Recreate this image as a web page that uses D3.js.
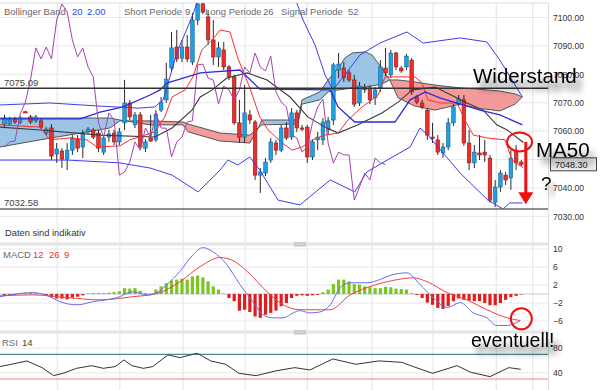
<!DOCTYPE html>
<html><head><meta charset="utf-8">
<script src="https://cdn.jsdelivr.net/npm/d3@7"></script>
<style>
html,body{margin:0;padding:0;background:#fff;}
svg{display:block;font-family:"Liberation Sans",Arial,sans-serif;}
</style></head><body>
<svg id="c" width="600" height="390"></svg>
<script>
// ---------- DATA ----------
const candleO = [
7062.5,7062.5,7064.3,7063.2,7066.8,7065.0,7063.6,7063.6,7059.3,7061.1,
7051.9,7053.0,7050.2,7053.3,7057.2,7054.4,7059.7,7060.4,7059.3,7052.6,
7057.9,7059.3,7056.2,7062.9,7069.9,7062.2,7065.7,7054.0,7057.6,7056.9,
7067.4,7071.0,7082.2,7089.6,7085.7,7089.6,7084.3,7099.1,7104.8,7100.2,
7092.1,7086.1,7088.6,7082.6,7079.1,7062.9,7057.9,7065.7,7063.2,7044.5,
7045.2,7049.8,7055.8,7053.3,7061.1,7057.9,7066.4,7061.1,7061.4,7050.9,
7056.9,7056.9,7060.4,7063.9,7081.5,7082.2,7080.5,7078.0,7069.9,7075.5,
7075.2,7071.7,7075.2,7082.2,7079.8,7087.5,7082.2,7082.6,7085.0,7072.0,
7069.9,7067.4,7057.9,7056.9,7052.3,7054.4,7062.9,7069.5,7071.0,7055.8,
7048.8,7052.3,7052.6,7050.5,7035.0,7040.3,7044.5,7043.5,7053.3,7049.1];
const candleH = [
7065.7,7065.0,7065.0,7065.3,7067.1,7065.7,7065.7,7064.6,7061.4,7062.5,
7055.8,7054.0,7055.8,7058.6,7058.6,7060.4,7061.4,7061.1,7060.4,7058.6,
7060.4,7060.4,7061.1,7078.0,7071.0,7066.7,7066.7,7057.2,7065.7,7067.4,
7072.0,7084.0,7094.9,7095.6,7092.1,7093.8,7101.6,7105.5,7105.5,7102.6,
7099.1,7091.4,7091.4,7083.3,7079.8,7071.0,7076.2,7067.4,7063.9,7047.0,
7050.5,7057.6,7056.9,7062.2,7063.2,7068.1,7067.4,7062.2,7062.2,7056.9,
7059.7,7064.6,7065.0,7084.0,7087.5,7084.3,7081.5,7079.8,7077.3,7076.6,
7076.2,7075.5,7085.0,7089.3,7088.6,7087.9,7082.9,7087.2,7085.7,7072.7,
7071.0,7068.1,7062.9,7058.6,7055.8,7064.6,7069.5,7072.7,7072.7,7060.4,
7055.1,7058.6,7056.9,7051.6,7042.8,7046.3,7045.6,7053.3,7055.1,7049.8];
const candleL = [
7061.4,7061.8,7062.5,7062.5,7066.4,7062.5,7062.9,7060.7,7058.6,7049.8,
7048.8,7047.0,7046.3,7051.6,7052.6,7050.5,7059.0,7057.2,7052.6,7051.6,
7056.2,7055.1,7055.1,7060.4,7063.9,7061.1,7053.3,7052.6,7056.2,7056.2,
7066.7,7069.9,7080.8,7084.3,7084.3,7084.3,7083.3,7097.4,7101.2,7090.3,
7083.3,7082.6,7081.5,7078.0,7062.2,7055.8,7055.8,7062.5,7042.8,7038.2,
7044.2,7048.8,7051.6,7052.6,7056.9,7056.9,7059.7,7060.0,7048.8,7049.8,
7053.3,7055.1,7058.6,7062.2,7078.7,7077.3,7077.3,7068.5,7068.8,7073.4,
7069.5,7069.2,7073.8,7079.4,7078.7,7081.5,7080.5,7081.5,7072.7,7069.5,
7067.8,7056.9,7055.8,7051.6,7050.5,7053.3,7061.8,7068.8,7054.8,7046.3,
7047.0,7049.8,7049.1,7034.7,7033.3,7038.6,7041.0,7039.3,7046.3,7047.7];
const candleC = [
7064.6,7063.9,7063.2,7064.6,7066.6,7063.2,7065.0,7061.4,7060.7,7051.2,
7053.7,7050.2,7053.3,7057.6,7054.0,7059.3,7060.7,7057.9,7054.0,7057.6,
7059.0,7056.2,7059.7,7069.9,7065.0,7065.7,7054.4,7056.2,7056.5,7066.0,
7070.2,7078.3,7089.3,7085.4,7089.6,7085.4,7099.1,7104.8,7101.9,7092.1,
7086.1,7089.3,7082.6,7079.1,7062.9,7057.9,7066.4,7063.9,7044.5,7045.6,
7049.1,7056.2,7053.3,7061.1,7057.6,7066.4,7061.1,7061.0,7050.9,7056.2,
7057.9,7063.2,7063.6,7083.3,7083.6,7078.7,7078.0,7069.5,7075.9,7074.5,
7071.0,7074.5,7082.6,7080.5,7087.5,7082.6,7081.2,7086.4,7073.8,7070.2,
7068.5,7058.6,7057.6,7052.6,7054.4,7062.9,7068.5,7071.3,7055.8,7048.8,
7052.6,7051.6,7051.6,7035.7,7040.3,7045.2,7042.8,7050.5,7048.8,7048.3];

// overlay lines: [bar index, price]
const bbUpper = [[-0.9,7069.2],[8.7,7069.9],[18.3,7068.8],[25.6,7068.1],[28.8,7068.5],[30.4,7071.0],[31.7,7079.1],[33.0,7087.5],[34.6,7094.5],[35.9,7100.2],[36.9,7105.1],[39.4,7111.4],[47.0,7113.2],[53.7,7109.7],[56.0,7105.1],[57.2,7099.1],[59.5,7090.3],[61.4,7079.8],[62.9,7074.5],[65.2,7079.8],[68.1,7086.8],[71.9,7091.0],[77.1,7094.9],[80.2,7091.0],[87.3,7092.8],[92.4,7091.4],[94.9,7085.0],[99.2,7072.0]];
const bbLower = [[-0.9,7049.8],[12.0,7049.8],[19.3,7049.1],[22.1,7048.8],[27.9,7047.0],[32.1,7044.5],[37.1,7038.6],[41.3,7046.3],[42.8,7049.8],[44.7,7048.1],[47.0,7050.9],[48.9,7046.3],[52.4,7035.7],[56.6,7034.0],[62.4,7042.8],[67.1,7038.6],[69.4,7045.6],[73.3,7049.8],[77.7,7054.4],[79.6,7061.1],[81.1,7058.6],[87.3,7045.2],[92.6,7035.7],[95.5,7032.6],[96.8,7034.7],[99.2,7034.7]];
const kijun = [[-0.9,7064.3],[14.5,7064.3],[18.3,7066.7],[22.7,7068.5],[27.9,7072.7],[29.8,7074.5],[31.1,7076.9],[37.5,7080.5],[45.1,7081.5],[48.9,7074.8],[62.4,7074.5],[63.9,7068.5],[67.1,7063.2],[74.8,7063.2],[77.7,7071.0],[80.6,7073.8],[83.4,7071.7],[87.8,7069.2],[91.1,7067.4],[94.9,7065.7],[99.2,7062.2]];
const tenkan = [[-0.9,7062.2],[6.8,7061.4],[8.7,7056.9],[12.5,7057.6],[15.8,7056.9],[17.7,7054.4],[22.1,7054.8],[24.0,7056.9],[28.8,7059.7],[30.7,7065.0],[32.1,7072.0],[34.6,7074.5],[36.1,7079.1],[37.8,7088.6],[39.8,7092.1],[41.3,7095.6],[43.2,7094.9],[44.7,7085.7],[47.0,7075.2],[48.9,7065.0],[50.5,7060.4],[53.2,7055.8],[55.1,7053.3],[57.0,7054.4],[58.9,7056.9],[61.4,7058.6],[63.9,7059.3],[65.8,7063.9],[68.5,7068.5],[71.6,7072.7],[72.9,7079.1],[78.6,7079.1],[80.0,7076.9],[81.1,7071.0],[83.4,7069.9],[86.7,7069.9],[88.2,7063.9],[89.8,7058.6],[92.4,7057.6],[95.9,7056.9],[97.2,7049.8],[99.4,7047.0]];
const ma50 = [[-0.9,7061.4],[6.8,7060.4],[18.3,7058.6],[28.8,7057.9],[32.1,7061.1],[35.9,7067.4],[37.5,7072.0],[39.8,7074.5],[42.6,7078.7],[46.5,7080.5],[50.3,7078.0],[54.7,7072.0],[58.1,7065.0],[61.4,7061.4],[63.9,7059.3],[67.7,7062.2],[72.3,7066.4],[75.4,7070.2],[78.1,7074.5],[82.5,7075.5],[88.6,7069.9],[91.7,7067.4],[94.3,7062.2],[96.3,7060.4],[99.4,7056.0]];
const cloudIdx = [-0.9,6.8,14.5,20.2,22.1,27.9,34.2,35.2,41.3,47.0,48.6,49.3,56.2,57.0,60.4,62.0,63.9,65.2,66.6,69.1,70.4,72.3,73.8,75.4,78.6,82.5,87.3,90.5,94.9,97.8,99.2];
const spanA = [7064.6,7064.6,7064.6,7064.6,7063.9,7062.2,7062.2,7059.7,7056.5,7055.8,7061.1,7063.9,7063.9,7071.0,7073.8,7078.0,7082.2,7085.7,7087.5,7087.9,7086.8,7082.2,7078.0,7071.7,7068.8,7067.4,7069.5,7068.1,7067.1,7069.5,7072.0];
const spanB = [7054.4,7056.9,7059.3,7061.1,7063.6,7063.6,7063.2,7062.5,7059.3,7058.6,7061.1,7062.2,7062.5,7069.5,7071.0,7073.8,7074.5,7074.8,7075.2,7075.5,7075.9,7076.6,7078.0,7078.0,7077.3,7076.2,7075.2,7074.8,7074.1,7073.1,7072.0];
const chikouShift = 26;
const levelValues = [7075.09, 7032.58];
const lastPrice = 7048.30;
const priceTicks = [7100,7090,7080,7070,7060,7050,7040,7030];
const gridIdx = [10.1,22.1,34.2,46.1,58.0,70.4,82.1,94.2,101.2];

// MACD panel
const macdHist = [
-0.3,-0.3,-0.2,0.2,0.3,0.4,0.3,0.1,-0.3,-0.7,
-1.0,-1.0,-1.2,-0.8,-0.6,-0.3,0.1,0.2,0.2,0.2,
0.3,0.4,0.6,1.3,1.2,1.3,0.7,0.2,0.1,1.0,
1.7,2.4,3.0,3.2,3.4,3.2,3.9,4.1,3.7,2.8,
1.7,1.0,0.1,-0.9,-1.6,-3.7,-3.5,-4.0,-5.0,-5.3,
-4.6,-4.2,-3.7,-2.7,-2.0,-0.9,-0.4,-0.3,-0.4,-0.3,
-0.2,0.4,1.0,2.2,3.2,3.2,2.8,2.2,2.1,1.7,
1.5,1.3,1.3,1.6,1.5,1.2,1.1,1.0,0.2,-0.2,
-0.9,-1.9,-2.4,-3.1,-3.3,-2.7,-1.6,-1.0,-1.3,-1.5,
-1.6,-1.6,-2.0,-2.5,-2.5,-2.0,-1.3,-0.7,-0.4,-0.1];
const macdLine = [[-0.9,-0.6],[5.5,0.3],[8.7,-0.6],[10.6,-1.7],[13.9,-2.4],[17.0,-1.7],[21.6,-0.8],[24.6,0.5],[27.3,-0.2],[29.2,0.3],[31.1,2.1],[33.6,5.0],[36.1,8.7],[38.0,10.3],[39.9,9.4],[42.6,6.5],[45.1,2.1],[47.6,-1.7],[49.5,-4.6],[51.4,-5.3],[53.4,-5.3],[55.3,-4.2],[56.6,-3.7],[58.5,-4.2],[60.4,-4.0],[62.4,-2.4],[64.3,1.4],[66.2,2.5],[69.4,2.5],[71.9,3.2],[73.8,4.1],[77.1,4.7],[79.6,2.1],[82.1,-0.8],[84.8,-3.0],[87.3,-1.9],[89.8,-4.2],[92.4,-5.3],[94.3,-7.0],[96.3,-7.0],[98.8,-5.9]];
const signalLine = [[-0.9,-0.4],[5.5,-0.2],[12.0,-0.8],[18.3,-1.3],[24.6,-0.6],[29.2,0.1],[33.6,2.7],[37.5,6.1],[41.3,8.1],[43.8,7.4],[46.5,5.0],[50.3,0.5],[53.4,-2.4],[56.6,-3.5],[62.4,-3.5],[66.2,-0.2],[69.4,1.4],[74.4,3.0],[78.3,3.6],[81.0,2.7],[84.8,0.3],[88.6,-1.3],[92.4,-3.5],[96.3,-5.3],[98.8,-5.9]];
const macdTicks = [10,6,2,-2,-6];

// RSI panel
const rsiLine = [[-0.9,50.1],[1.3,53.8],[4.3,59.3],[7.2,48.4],[9.4,35.4],[11.2,39.2],[13.8,47.3],[16.7,51.6],[18.9,47.3],[21.2,50.1],[22.9,60.8],[24.4,51.6],[26.6,47.3],[28.4,50.1],[31.3,69.0],[33.6,64.6],[36.9,71.7],[39.5,59.3],[42.4,53.8],[44.9,39.2],[48.2,35.4],[51.9,43.0],[55.6,48.4],[58.5,44.6],[62.9,62.5],[67.3,53.8],[71.7,59.3],[76.1,57.0],[78.3,50.1],[82.0,39.2],[86.7,51.6],[89.3,40.9],[93.0,33.8],[96.6,48.4],[98.9,45.7]];
const rsiBands = [70, 30];
const rsiTicks = [80, 40];

// ---------- DRAW ----------
const svg = d3.select('#c');
const R = 548;
const x = d3.scaleLinear().domain([0, 99]).range([4.5, 521.3]);
const y = d3.scaleLinear().domain([7030, 7100]).range([216.3, 17.5]);
const ym = d3.scaleLinear().domain([-6, 10]).range([321, 249]);
const yr = d3.scaleLinear().domain([30, 70]).range([379, 354.3]);

const defs = svg.append('defs');
defs.append('clipPath').attr('id','cm').append('rect').attr('x',0).attr('y',3).attr('width',R).attr('height',239);
defs.append('clipPath').attr('id','cd').append('rect').attr('x',0).attr('y',246).attr('width',R).attr('height',84);
defs.append('clipPath').attr('id','cr').append('rect').attr('x',0).attr('y',334).attr('width',R).attr('height',56);
const f = defs.append('filter').attr('id','sh').attr('x','-30%').attr('y','-60%').attr('width','170%').attr('height','260%');
f.append('feGaussianBlur').attr('in','SourceAlpha').attr('stdDeviation',3.2);
f.append('feOffset').attr('dx',5).attr('dy',8).attr('result','o');
f.append('feComponentTransfer').append('feFuncA').attr('type','linear').attr('slope',0.55);
const fm = f.append('feMerge'); fm.append('feMergeNode'); fm.append('feMergeNode').attr('in','SourceGraphic');

svg.append('rect').attr('width',600).attr('height',390).attr('fill','#fff');

// grid
const grid = svg.append('g');
grid.selectAll('.v').data(gridIdx).join('line').attr('x1',d=>x(d)).attr('x2',d=>x(d)).attr('y1',3).attr('y2',390).attr('stroke','#e3e3e3');
grid.selectAll('.h').data(priceTicks).join('line').attr('x1',0).attr('x2',R).attr('y1',d=>y(d)).attr('y2',d=>y(d)).attr('stroke','#e8e8e8');
grid.selectAll('.hm').data(macdTicks).join('line').attr('x1',0).attr('x2',R).attr('y1',d=>ym(d)).attr('y2',d=>ym(d)).attr('stroke','#e8e8e8');
grid.selectAll('.hr').data(rsiTicks).join('line').attr('x1',0).attr('x2',R).attr('y1',d=>yr(d)).attr('y2',d=>yr(d)).attr('stroke','#e8e8e8');
grid.append('line').attr('x1',0).attr('x2',R).attr('y1',3).attr('y2',3).attr('stroke','#dcdcdc');
grid.append('line').attr('x1',R+0.5).attr('x2',R+0.5).attr('y1',3).attr('y2',390).attr('stroke','#dcdcdc');

// ---- main panel ----
const main = svg.append('g').attr('clip-path','url(#cm)');
const cloud = cloudIdx.map((d,k)=>({i:d,a:spanA[k],b:spanB[k]}));
defs.append('clipPath').attr('id','aboveB').append('path').attr('d', d3.area().x(d=>x(d.i)).y0(-50).y1(d=>y(d.b))(cloud));
defs.append('clipPath').attr('id','belowB').append('path').attr('d', d3.area().x(d=>x(d.i)).y0(450).y1(d=>y(d.b))(cloud));
const ab = d3.area().x(d=>x(d.i)).y0(d=>y(d.a)).y1(d=>y(d.b));
main.append('g').attr('clip-path','url(#aboveB)').append('path').attr('d',ab(cloud)).attr('fill','#9cc4e4');
main.append('g').attr('clip-path','url(#belowB)').append('path').attr('d',ab(cloud)).attr('fill','#f39b9b');
const pl = d3.line().x(d=>x(d[0])).y(d=>y(d[1]));
main.append('path').attr('d', pl(cloud.map(d=>[d.i,d.a]))).attr('fill','none').attr('stroke','#555').attr('stroke-width',1);
main.append('path').attr('d', pl(cloud.map(d=>[d.i,d.b]))).attr('fill','none').attr('stroke','#555').attr('stroke-width',1);

// candles
const cand = d3.range(candleO.length).map(i=>({i,o:candleO[i],h:candleH[i],l:candleL[i],c:candleC[i]}));
const cg = main.append('g');
cg.selectAll('.w').data(cand).join('line').attr('x1',d=>x(d.i)).attr('x2',d=>x(d.i)).attr('y1',d=>y(d.h)).attr('y2',d=>y(d.l)).attr('stroke','#2a2a2a').attr('stroke-width',1);
cg.selectAll('.b').data(cand).join('rect')
  .attr('x',d=>x(d.i)-1.8).attr('width',3.6)
  .attr('y',d=>y(Math.max(d.o,d.c)))
  .attr('height',d=>Math.max(1.2, y(Math.min(d.o,d.c))-y(Math.max(d.o,d.c))))
  .attr('fill',d=>d.c>=d.o?'#1f9fe4':'#e8302c')
  .attr('stroke',d=>d.c>=d.o?'#15648f':'#8f1a16').attr('stroke-width',0.6);

// indicator lines
main.append('path').attr('d',pl(ma50)).attr('fill','none').attr('stroke','#3a3a3a').attr('stroke-width',1.1);
main.append('path').attr('d',pl(tenkan)).attr('fill','none').attr('stroke','#ff2b2b').attr('stroke-width',1);
main.append('path').attr('d',pl(kijun)).attr('fill','none').attr('stroke','#2b2bd8').attr('stroke-width',1.3);
main.append('path').attr('d',pl(bbUpper)).attr('fill','none').attr('stroke','#3d3df2').attr('stroke-width',1);
main.append('path').attr('d',pl(bbLower)).attr('fill','none').attr('stroke','#3d3df2').attr('stroke-width',1);
const chikou = d3.range(candleC.length - chikouShift).map(i=>[i, candleC[i+chikouShift]]);
main.append('path').attr('d',pl(chikou)).attr('fill','none').attr('stroke','#a244ae').attr('stroke-width',1);

// levels
main.selectAll('.lv').data(levelValues).join('line').attr('x1',0).attr('x2',R).attr('y1',d=>y(d)).attr('y2',d=>y(d))
  .attr('stroke',(d,k)=>k===0?'#333':'#6a6a6a').attr('stroke-width',1.6);
svg.selectAll('.lvt').data(levelValues).join('text').attr('x',4).attr('y',d=>y(d)-2.5).text(d=>d.toFixed(2))
  .attr('font-size',9.5).attr('fill','#444');

// price axis
const ax = svg.append('g').attr('transform',`translate(${R},0)`).call(d3.axisRight(y).tickValues(priceTicks).tickFormat(d3.format('.2f')).tickSize(0).tickPadding(5));
ax.select('.domain').remove();
ax.selectAll('text').attr('font-size',8.6).attr('fill','#333').attr('font-family','"Liberation Sans",Arial,sans-serif');

// headers
const hdr = [
 {t:'Bollinger Band',x:4,c:'#6b6b6b'},{t:'20',x:72,c:'#2b45ff'},{t:'2.00',x:87,c:'#2b45ff'},
 {t:'Short Periode',x:124,c:'#6b6b6b'},{t:'9',x:185,c:'#6b6b6b'},
 {t:'Long Periode',x:205,c:'#6b6b6b'},{t:'26',x:263,c:'#6b6b6b'},
 {t:'Signal Periode',x:281,c:'#6b6b6b'},{t:'52',x:348,c:'#6b6b6b'}];
svg.selectAll('.hd').data(hdr).join('text').attr('x',d=>d.x).attr('y',15).text(d=>d.t).attr('fill',d=>d.c).attr('font-size',9.5);
svg.append('text').attr('x',5).attr('y',236).text('Daten sind indikativ').attr('font-size',9.3).attr('fill','#333');

// separators
[[242.5],[330.5]].forEach(([sy])=>{
  svg.append('rect').attr('x',0).attr('y',sy).attr('width',R).attr('height',3).attr('fill','#e4e4e4');
  svg.append('rect').attr('x',294).attr('y',sy-0.5).attr('width',12).attr('height',4.5).attr('fill','#c4c4c4');
  svg.append('line').attr('x1',295).attr('x2',305).attr('y1',sy+1.5).attr('y2',sy+1.5).attr('stroke','#eee').attr('stroke-width',0.8);
});

// ---- MACD panel ----
const md = svg.append('g').attr('clip-path','url(#cd)');
md.append('line').attr('x1',0).attr('x2',R).attr('y1',ym(0)).attr('y2',ym(0)).attr('stroke','#b8c8d8');
md.selectAll('.hb').data(macdHist).join('rect')
  .attr('x',(d,i)=>x(i)-1.6).attr('width',3.2)
  .attr('y',d=>d>=0?ym(d):ym(0)).attr('height',d=>Math.abs(ym(d)-ym(0)))
  .attr('fill',d=>d>=0?'#7cc520':'#e21b1b');
const ml = d3.line().x(d=>x(d[0])).y(d=>ym(d[1])).curve(d3.curveMonotoneX);
md.append('path').attr('d',ml(signalLine)).attr('fill','none').attr('stroke','#f24040').attr('stroke-width',1);
md.append('path').attr('d',ml(macdLine)).attr('fill','none').attr('stroke','#6b6bf0').attr('stroke-width',1);
const axm = svg.append('g').attr('transform',`translate(${R},0)`).call(d3.axisRight(ym).tickValues(macdTicks).tickFormat(d3.format('d')).tickSize(0).tickPadding(5));
axm.select('.domain').remove();
axm.selectAll('text').attr('font-size',8.6).attr('fill','#333').attr('font-family','"Liberation Sans",Arial,sans-serif');
svg.append('text').attr('x',3).attr('y',258).text('MACD').attr('font-size',9.5).attr('fill','#6b6b6b');
[['12',33],['26',49],['9',64]].forEach(([t,px])=>svg.append('text').attr('x',px).attr('y',258).text(t).attr('font-size',9.5).attr('fill','#e53030'));

// ---- RSI panel ----
const rs = svg.append('g').attr('clip-path','url(#cr)');
rs.selectAll('.rb').data(rsiBands).join('line').attr('x1',0).attr('x2',R).attr('y1',d=>yr(d)).attr('y2',d=>yr(d))
  .attr('stroke',(d,k)=>k===0?'#4a8c9c':'#f08585').attr('stroke-width',1.2);
rs.append('path').attr('d',d3.line().x(d=>x(d[0])).y(d=>yr(d[1]))(rsiLine)).attr('fill','none').attr('stroke','#333').attr('stroke-width',1);
const axr = svg.append('g').attr('transform',`translate(${R},0)`).call(d3.axisRight(yr).tickValues(rsiTicks).tickFormat(d3.format('d')).tickSize(0).tickPadding(5));
axr.select('.domain').remove();
axr.selectAll('text').attr('font-size',8.6).attr('fill','#333').attr('font-family','"Liberation Sans",Arial,sans-serif');
svg.append('text').attr('x',2).attr('y',346).text('RSI').attr('font-size',9.5).attr('fill','#6b6b6b');
svg.append('text').attr('x',22).attr('y',346).text('14').attr('font-size',9.5).attr('fill','#444');

// ---- annotations ----
const ly = y(lastPrice);
svg.append('rect').attr('x',550.5).attr('y',ly-6.5).attr('width',46).attr('height',13).attr('fill','#ececec').attr('stroke','#444').attr('stroke-width',1);
svg.append('text').attr('x',555).attr('y',ly+3.3).text(lastPrice.toFixed(2)).attr('font-size',9).attr('fill','#222');

const ann = svg.append('g').attr('font-family','"Liberation Sans",Arial,sans-serif').attr('fill','#000');
ann.append('text').attr('x',473).attr('y',82.5).text('Widerstand').attr('font-size',20.5).attr('filter','url(#sh)');
ann.append('text').attr('x',536).attr('y',156.5).text('MA50').attr('font-size',20.5).attr('filter','url(#sh)');
ann.append('text').attr('x',541).attr('y',190).text('?').attr('font-size',19).attr('filter','url(#sh)');
ann.append('text').attr('x',471).attr('y',346.5).text('eventuell!').attr('font-size',19.5).attr('filter','url(#sh)');

// red marks
svg.append('ellipse').attr('cx',x(98)+3.5).attr('cy',y(7056.2)).attr('rx',12.5).attr('ry',9.5).attr('fill','none').attr('stroke','#f01010').attr('stroke-width',2);
svg.append('line').attr('x1',x(99)+4.5).attr('x2',x(99)+4.5).attr('y1',y(7056.2)).attr('y2',y(7037)).attr('stroke','#f01010').attr('stroke-width',3);
svg.append('path').attr('d',`M${x(99)-3},${y(7038.5)} L${x(99)+12},${y(7038.5)} L${x(99)+4.5},${y(7034.2)} Z`).attr('fill','#f01010');
svg.append('ellipse').attr('cx',x(99)).attr('cy',ym(-5.5)).attr('rx',10.5).attr('ry',10.5).attr('fill','none').attr('stroke','#f01010').attr('stroke-width',2);
</script>
</body></html>
